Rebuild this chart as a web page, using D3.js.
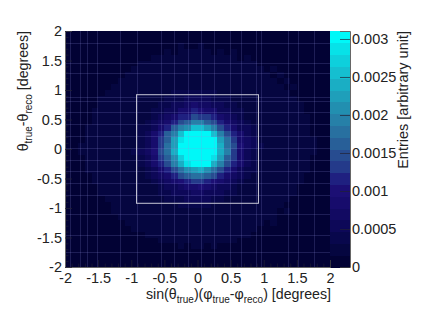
<!DOCTYPE html>
<html><head><meta charset="utf-8">
<script src="https://cdn.jsdelivr.net/npm/d3@7"></script>
<style>html,body{margin:0;background:#fff}svg{display:block}text{font-family:"Liberation Sans",Arial,sans-serif;fill:#222}</style>
</head><body><svg id="c" width="436" height="315"></svg>
<script>
const xTicks=[-2,-1.5,-1,-0.5,0,0.5,1,1.5,2];
const yTicks=[-2,-1.5,-1,-0.5,0,0.5,1,1.5,2];
const minorTicks=[-1.9,-1.8,-1.7,-1.6,-1.4,-1.3,-1.2,-1.1,-0.9,-0.8,-0.7,-0.6,-0.4,-0.3,-0.2,-0.1,0.1,0.2,0.3,0.4,0.6,0.7,0.8,0.9,1.1,1.2,1.3,1.4,1.6,1.7,1.8,1.9];
const zTicks=[0,0.0005,0.001,0.0015,0.002,0.0025,0.003];
const zMax=0.003105;
const signalBox=[-0.92,0.92];
const seamsX=[-1.92,-1.77,-1.67,-1.52,-1.17,-0.92,-0.55,-0.35,-0.15,0.05,0.25,0.49,0.65,0.88,0.96,1.36,1.51,1.76];
const seamsY=[1.8,1.46,1.29,0.88,0.81,0.62,0.42,0.22,0.02,-0.18,-0.38,-0.58,-0.78,-1.1,-1.45,-1.75];
const palette=["#020234","#050640","#08074c","#0d0858","#120a62","#170c6c","#1c0f74","#1f2080","#243a8a","#274c90","#285f98","#2870a0","#2680a8","#228fb0","#1f9fba","#1aaec4","#15bfd0","#0ed0dc","#07e2e8","#00f8f8"];
// bin contents in units of 1e-4, top row first, 40 x 40 bins
const counts=[
[0,0,0,0,0,1,0,1,1,0,1,1,1,1,1,1,1,1,1,1,1,1,1,1,1,1,1,1,1,1,1,1,1,0,1,0,0,0,0,0],
[0,0,0,1,0,0,1,1,1,1,1,1,1,1,1,1,1,1,1,1,1,1,1,1,1,1,1,1,1,1,1,1,1,1,0,1,0,0,0,0],
[0,0,1,0,1,1,1,1,1,1,1,1,1,1,1,1,1,2,1,1,2,1,1,1,1,1,1,1,1,1,1,1,1,1,1,0,1,0,0,0],
[0,1,0,1,1,1,1,1,1,1,1,1,1,1,1,2,1,2,2,2,2,2,1,2,1,2,1,1,1,1,1,1,1,1,1,1,0,1,0,0],
[0,0,1,1,1,1,1,1,1,1,1,1,1,2,2,2,2,2,2,2,2,2,2,2,2,2,1,2,1,1,1,1,1,1,1,1,1,0,1,0],
[0,1,1,1,1,1,1,1,1,1,1,2,2,2,2,2,2,2,2,2,2,2,2,2,2,2,2,2,2,1,1,1,1,1,1,1,1,1,0,0],
[1,0,1,1,1,1,1,1,1,1,2,2,2,2,2,2,2,2,2,2,2,2,2,2,2,2,2,2,2,2,1,2,1,1,1,1,1,1,1,0],
[0,1,1,1,1,1,1,1,1,2,2,2,2,2,2,2,3,3,3,3,3,3,3,3,2,2,2,2,2,2,2,1,2,1,1,1,1,1,1,0],
[1,1,1,1,1,1,1,1,2,2,2,2,2,2,3,3,3,3,3,3,3,3,3,3,3,3,2,2,2,2,2,2,1,2,1,1,1,1,1,1],
[1,1,1,1,1,1,1,2,2,2,2,2,3,3,3,3,3,3,3,3,3,3,3,3,3,3,3,3,2,2,2,2,2,1,2,1,1,1,1,0],
[1,1,1,1,1,1,2,2,2,2, 2,3,3,3,3,3,4,4,4,4,4,4,4,3,3,3,3,2,2,2, 2,2,2,2,1,1,1,1,1,1],
[1,1,1,1,1,2,2,2,2,2, 3,3,3,3,3,4,4,4,5,5,5,5,4,4,4,3,3,3,3,2, 2,2,2,2,2,1,1,1,1,1],
[1,1,1,1,1,2,2,2,2,3, 3,3,3,3,4,4,5,6,7,8,7,7,6,5,4,4,3,3,3,2, 3,2,2,2,2,2,1,1,1,1],
[1,1,1,1,2,2,2,2,2,3, 3,3,3,4,4,5,6,8,9,11,10,9,8,6,5,4,4,3,3,3, 3,3,2,2,2,2,1,1,1,1],
[1,1,1,1,2,2,2,2,3,3, 3,3,3,4,5,7,9,11,12,15,13,13,11,9,7,5,4,3,3,3, 3,3,3,2,2,2,2,1,1,1],
[1,1,1,1,2,2,2,2,3,3, 3,3,4,5,7,9,12,15,17,19,20,17,15,12,9,7,5,4,3,3, 3,3,3,3,2,2,2,1,1,1],
[1,1,1,2,2,2,2,3,3,3, 3,4,4,6,9,12,16,19,21,25,25,22,19,15,12,9,6,5,4,3, 3,3,3,3,2,2,2,1,1,1],
[1,1,1,2,2,2,2,3,3,3, 3,4,5,8,12,16,20,25,30,32,32,30,25,20,15,11,8,5,4,3, 3,3,3,3,3,2,2,1,1,1],
[1,1,1,2,2,2,2,3,3,3, 3,4,6,9,13,17,22,29,33,34,34,33,30,23,18,13,9,7,5,3, 3,3,3,3,3,2,2,2,1,1],
[1,1,2,2,2,2,2,3,3,3, 3,4,6,9,13,18,23,30,33,35,35,33,31,24,18,14,10,7,5,4, 3,3,3,3,3,2,2,2,1,1],
[1,1,2,2,2,2,3,3,3,3, 4,5,7,10,14,18,24,31,34,35,35,34,30,24,19,13,9,6,4,3, 3,3,3,3,3,2,2,2,1,1],
[1,1,1,2,2,2,2,3,3,3, 3,4,6,9,13,17,21,27,32,34,34,32,28,22,17,13,9,6,4,3, 3,3,3,3,2,2,2,1,1,1],
[1,1,1,2,2,2,2,3,3,3, 3,4,5,8,11,15,19,24,29,31,31,30,24,19,15,11,8,5,4,3, 3,3,3,3,2,2,2,1,1,1],
[1,1,1,2,2,2,2,2,3,3, 3,3,4,6,9,12,15,18,21,23,24,21,18,15,11,9,6,4,4,3, 3,3,3,3,2,2,2,1,1,1],
[1,1,1,1,2,2,2,2,3,3, 3,3,4,5,7,9,12,14,16,18,18,16,14,11,9,7,5,4,3,3, 3,3,3,2,2,2,1,1,1,1],
[1,1,1,1,2,2,2,2,2,3, 3,3,3,4,5,7,9,10,12,13,13,12,10,9,7,5,4,3,3,3, 3,3,2,2,2,2,1,1,1,1],
[1,1,1,1,1,2,2,2,2,3, 3,3,3,3,4,5,6,7,9,9,10,9,7,6,5,4,3,3,3,3, 3,2,2,2,2,1,1,1,1,1],
[1,1,1,1,1,2,2,2,2,2, 3,3,3,3,4,4,5,5,6,7,7,6,5,5,4,4,3,3,3,2, 3,2,2,2,2,1,1,1,1,1],
[1,1,1,1,1,1,2,2,2,2, 3,3,3,3,3,4,4,4,5,5,5,5,4,4,3,3,3,3,2,2, 2,2,2,2,1,1,1,1,1,1],
[1,1,1,1,1,1,1,2,2,2, 2,3,3,3,3,3,3,4,4,4,4,4,3,3,3,3,3,2,2,2, 2,2,2,1,1,1,1,1,1,1],
[1,1,1,1,1,1,1,2,2,2,2,2,3,3,3,3,3,3,3,3,3,3,3,3,3,3,3,3,2,2,2,2,1,2,1,1,1,1,1,0],
[1,1,1,1,1,1,1,1,2,2,2,2,2,2,3,3,3,3,3,3,3,3,3,3,3,2,2,2,2,2,2,2,1,1,1,1,1,1,0,1],
[0,1,1,1,1,1,1,1,1,2,2,2,2,2,2,2,3,3,3,3,3,3,3,2,2,2,2,2,2,2,1,2,1,1,1,1,1,1,1,0],
[1,0,1,1,1,1,1,1,1,1,2,2,2,2,2,2,2,2,2,2,2,2,2,2,2,2,2,2,2,1,1,1,1,1,1,1,1,1,0,0],
[0,1,0,1,1,1,1,1,1,1,1,1,2,2,2,2,2,2,2,2,2,2,2,2,2,2,2,2,1,1,1,1,1,1,1,1,1,0,1,0],
[0,0,1,1,1,1,1,1,1,1,1,1,1,1,2,2,2,2,2,2,2,2,2,2,2,2,1,1,1,1,1,1,1,1,1,1,0,1,0,0],
[0,0,0,1,1,1,1,1,1,1,1,1,1,1,1,1,1,2,1,2,2,1,2,1,1,1,1,1,1,1,1,1,1,1,1,0,1,0,0,0],
[0,0,1,0,1,1,1,1,1,1,1,1,1,1,1,1,1,1,1,1,1,1,1,1,1,1,1,1,1,1,1,1,1,1,1,0,0,0,0,0],
[0,0,0,1,0,1,1,1,1,1,1,1,1,1,1,1,1,1,1,1,1,1,1,1,1,1,1,1,1,1,1,1,1,1,0,1,0,0,0,0],
[0,0,0,0,0,0,1,0,1,1,0,1,1,1,1,1,1,1,1,1,1,1,1,1,1,1,1,1,1,1,1,0,1,0,1,0,0,0,0,0]
];
const plot={l:65,r:330,t:31,b:267,barR:350};
const svg=d3.select("#c");
const x=d3.scaleLinear().domain([-2,2]).range([plot.l,plot.r]);
const y=d3.scaleLinear().domain([-2,2]).range([plot.b,plot.t]);
const z=d3.scaleLinear().domain([0,zMax]).range([plot.b,plot.t]);
const colour=d3.scaleQuantize().domain([0,zMax*1e4]).range(palette);
const nBins=counts.length, binW=4/nBins;
const binEdge=d3.scaleLinear().domain([0,nBins]).range([-2,2]);

// heat map
const cells=counts.flatMap((row,i)=>row.map((v,j)=>({i,j,v})));
svg.append("g").attr("shape-rendering","crispEdges").selectAll("rect").data(cells).join("rect")
 .attr("x",d=>x(binEdge(d.j))).attr("width",d=>x(binEdge(d.j+1))-x(binEdge(d.j))+0.5)
 .attr("y",d=>y(2-d.i*binW)).attr("height",d=>y(2-(d.i+1)*binW)-y(2-d.i*binW)+0.5)
 .attr("fill",d=>colour(d.v));

// faint rendering seams
const seams=svg.append("g").attr("stroke","#8f8fe0").attr("stroke-opacity",0.2).attr("stroke-width",1);
seams.selectAll(".sx").data(seamsX).join("line").attr("class","sx")
 .attr("x1",d=>Math.round(x(d))+.5).attr("x2",d=>Math.round(x(d))+.5).attr("y1",plot.t).attr("y2",plot.b);
seams.selectAll(".sy").data(seamsY).join("line").attr("class","sy")
 .attr("y1",d=>Math.round(y(d))+.5).attr("y2",d=>Math.round(y(d))+.5).attr("x1",plot.l).attr("x2",plot.r);

// colour bar
svg.append("g").attr("shape-rendering","crispEdges").selectAll("rect").data(palette).join("rect")
 .attr("x",plot.r).attr("width",plot.barR-plot.r)
 .attr("y",c=>z(colour.invertExtent(c)[1]/1e4))
 .attr("height",c=>z(colour.invertExtent(c)[0]/1e4)-z(colour.invertExtent(c)[1]/1e4)+0.5)
 .attr("fill",c=>c);

// signal box
svg.append("rect").attr("x",x(signalBox[0])).attr("width",x(signalBox[1])-x(signalBox[0]))
 .attr("y",y(signalBox[1])).attr("height",y(signalBox[0])-y(signalBox[1]))
 .attr("fill","none").attr("stroke","#c9c9d8").attr("stroke-width",1);

function styleAxis(g){g.selectAll("text").attr("font-size",14.5).attr("fill","#222");g.select(".domain").attr("stroke","#666");g.selectAll(".tick line").attr("stroke","#223").attr("stroke-opacity",.7);}
const fmt=d=>String(d);
// minor ticks
const minor=g=>g.select(".domain").remove();
svg.append("g").attr("transform",`translate(0,${plot.b})`).call(d3.axisBottom(x).tickValues(minorTicks).tickSize(-3.5).tickFormat("")).call(minor).selectAll("line").attr("stroke","#223").attr("stroke-opacity",.6);
svg.append("g").attr("transform",`translate(${plot.l},0)`).call(d3.axisLeft(y).tickValues(minorTicks).tickSize(-3.5).tickFormat("")).call(minor).selectAll("line").attr("stroke","#223").attr("stroke-opacity",.6);
svg.append("g").attr("transform",`translate(0,${plot.b})`)
 .call(d3.axisBottom(x).tickValues(xTicks).tickSize(-7).tickPadding(6).tickFormat(fmt)).call(styleAxis)
 .call(g=>g.selectAll("text").attr("dy","0.78em").attr("y",5));
svg.append("g").attr("transform",`translate(${plot.l},0)`)
 .call(d3.axisLeft(y).tickValues(yTicks).tickSize(-7).tickPadding(3).tickFormat(fmt)).call(styleAxis);
svg.append("g").attr("transform",`translate(${plot.barR},0)`)
 .call(d3.axisRight(z).tickValues(zTicks).tickSize(-10).tickPadding(2).tickFormat(fmt)).call(styleAxis);

function rich(t,parts){parts.forEach(([s,sub])=>{t.append("tspan").text(s).attr("font-size",sub===1?10:14.2).attr("dy",sub===1?4:sub===-1?-4:0);});}
const xl=svg.append("text").attr("x",331).attr("y",299).attr("text-anchor","end").attr("font-size",14.2);
rich(xl,[["sin(θ"],["true",1],[")(φ",-1],["true",1],["-φ",-1],["reco",1],[") [degrees]",-1]]);
const yl=svg.append("text").attr("transform","translate(28,31) rotate(-90)").attr("text-anchor","end").attr("font-size",14.2);
rich(yl,[["θ"],["true",1],["-θ",-1],["reco",1],[" [degrees]",-1]]);
svg.append("text").attr("transform","translate(408,31) rotate(-90)").attr("text-anchor","end").attr("font-size",14.5).text("Entries [arbitrary unit]");
</script></body></html>
